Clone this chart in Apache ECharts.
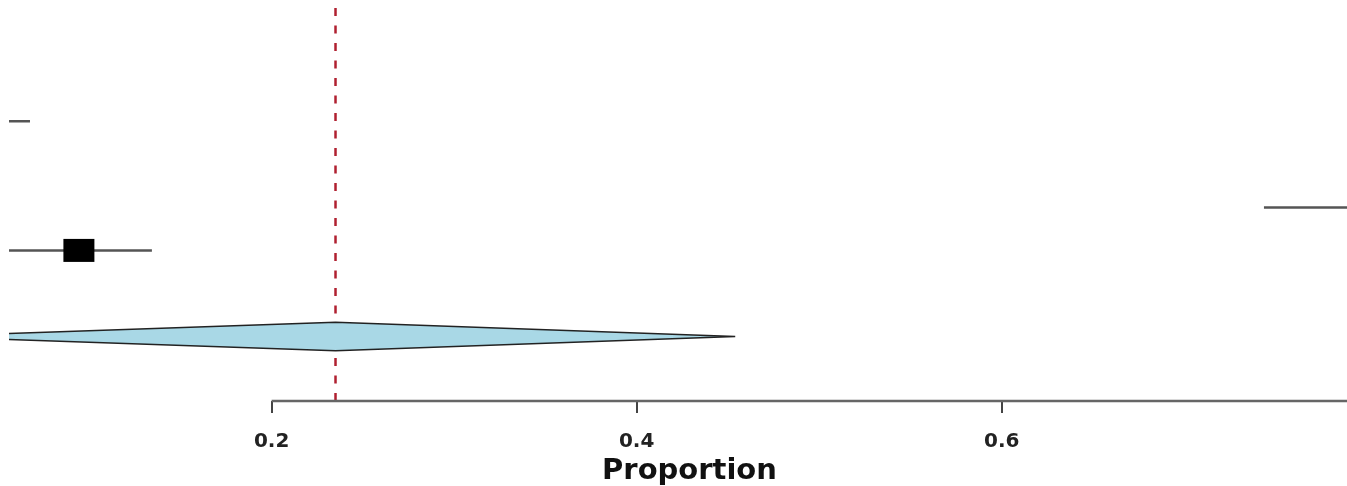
<!DOCTYPE html>
<html>
<head>
<meta charset="utf-8">
<script src="https://cdn.jsdelivr.net/npm/echarts@6/dist/echarts.min.js"></script>
<style>
  html, body { margin: 0; padding: 0; background: #fff; }
  #chart { width: 1347px; height: 486px; }
</style>
</head>
<body>
<div id="chart"></div>
<script>
// study rows (bottom = 0 is the pooled diamond)
const studyRows = [5, 3, 2]
const studyLow = [0.02, 0.7437, 0.03]
const studyHigh = [0.0676, 0.86, 0.1344]
const studyEst = [0.04, 0.81, 0.0944]

// pooled estimate
const pooledRow = 0
const pooledLow = 0.007
const pooledEst = 0.235
const pooledHigh = 0.454

const refLine = 0.235
const tickValues = [0.2, 0.4, 0.6, 0.8]
const axisStart = 0.2

const xMin = 0.0561
const xMax = 0.7892
const yMin = -1.5
const yMax = 7.82

const chart = echarts.init(document.getElementById("chart"))

const ciData = studyRows.map((r, i) => [studyLow[i], studyHigh[i], r])
const estData = studyRows.map((r, i) => [studyEst[i], r])

chart.setOption({
  animation: false,
  backgroundColor: "#fff",
  grid: { left: 9, right: 0, top: 0, bottom: 85, outerBoundsMode: "none", containLabel: false },
  xAxis: {
    type: "value",
    min: xMin,
    max: xMax,
    axisLine: { show: false, onZero: false },
    splitLine: { show: false },
    axisTick: {
      show: true,
      customValues: tickValues,
      length: 12,
      lineStyle: { color: "#444", width: 2 },
    },
    axisLabel: {
      customValues: tickValues,
      margin: 31,
      color: "#222",
      fontFamily: "DejaVu Sans",
      fontWeight: "bold",
      fontSize: 20,
      formatter: (v) => v.toFixed(1),
    },
    name: "Proportion",
    nameLocation: "middle",
    nameGap: 48,
    nameTextStyle: {
      color: "#111",
      fontFamily: "DejaVu Sans",
      fontWeight: "bold",
      fontSize: 29,
      padding: [0, 0, 0, 23],
    },
  },
  yAxis: {
    type: "value",
    min: yMin,
    max: yMax,
    show: false,
  },
  series: [
    {
      // axis line only from the first tick onwards
      type: "line",
      data: [[axisStart, yMin], [xMax + 0.02, yMin]],
      symbol: "none",
      clip: false,
      silent: true,
      lineStyle: { color: "#666", width: 2.5 },
    },
    {
      // reference line at the pooled estimate
      type: "line",
      data: [[refLine, yMin], [refLine, yMax]],
      symbol: "none",
      silent: true,
      z: 1,
      lineStyle: { color: "#b02030", width: 2.5, type: [8, 9.5] },
    },
    {
      type: "custom",
      clip: true,
      data: ciData,
      renderItem: (params, api) => {
        const p1 = api.coord([api.value(0), api.value(2)])
        const p2 = api.coord([api.value(1), api.value(2)])
        return {
          type: "line",
          shape: { x1: p1[0], y1: p1[1], x2: p2[0], y2: p2[1] },
          style: { stroke: "#555", lineWidth: 2.5 },
        }
      },
    },
    {
      type: "scatter",
      data: estData,
      symbol: "rect",
      symbolSize: [31, 23],
      z: 3,
      itemStyle: { color: "#000", opacity: 1 },
    },
    {
      type: "custom",
      clip: true,
      z: 2,
      data: [[pooledLow, pooledEst, pooledHigh, pooledRow]],
      renderItem: (params, api) => {
        const row = api.value(3)
        const h = api.size([0, 0.33])[1]
        const l = api.coord([api.value(0), row])
        const m = api.coord([api.value(1), row])
        const r = api.coord([api.value(2), row])
        return {
          type: "polygon",
          shape: { points: [[l[0], l[1]], [m[0], m[1] - h], [r[0], r[1]], [m[0], m[1] + h]] },
          style: { fill: "#a9d8e6", stroke: "#222", lineWidth: 1.5 },
        }
      },
    },
  ],
})
</script>
</body>
</html>
